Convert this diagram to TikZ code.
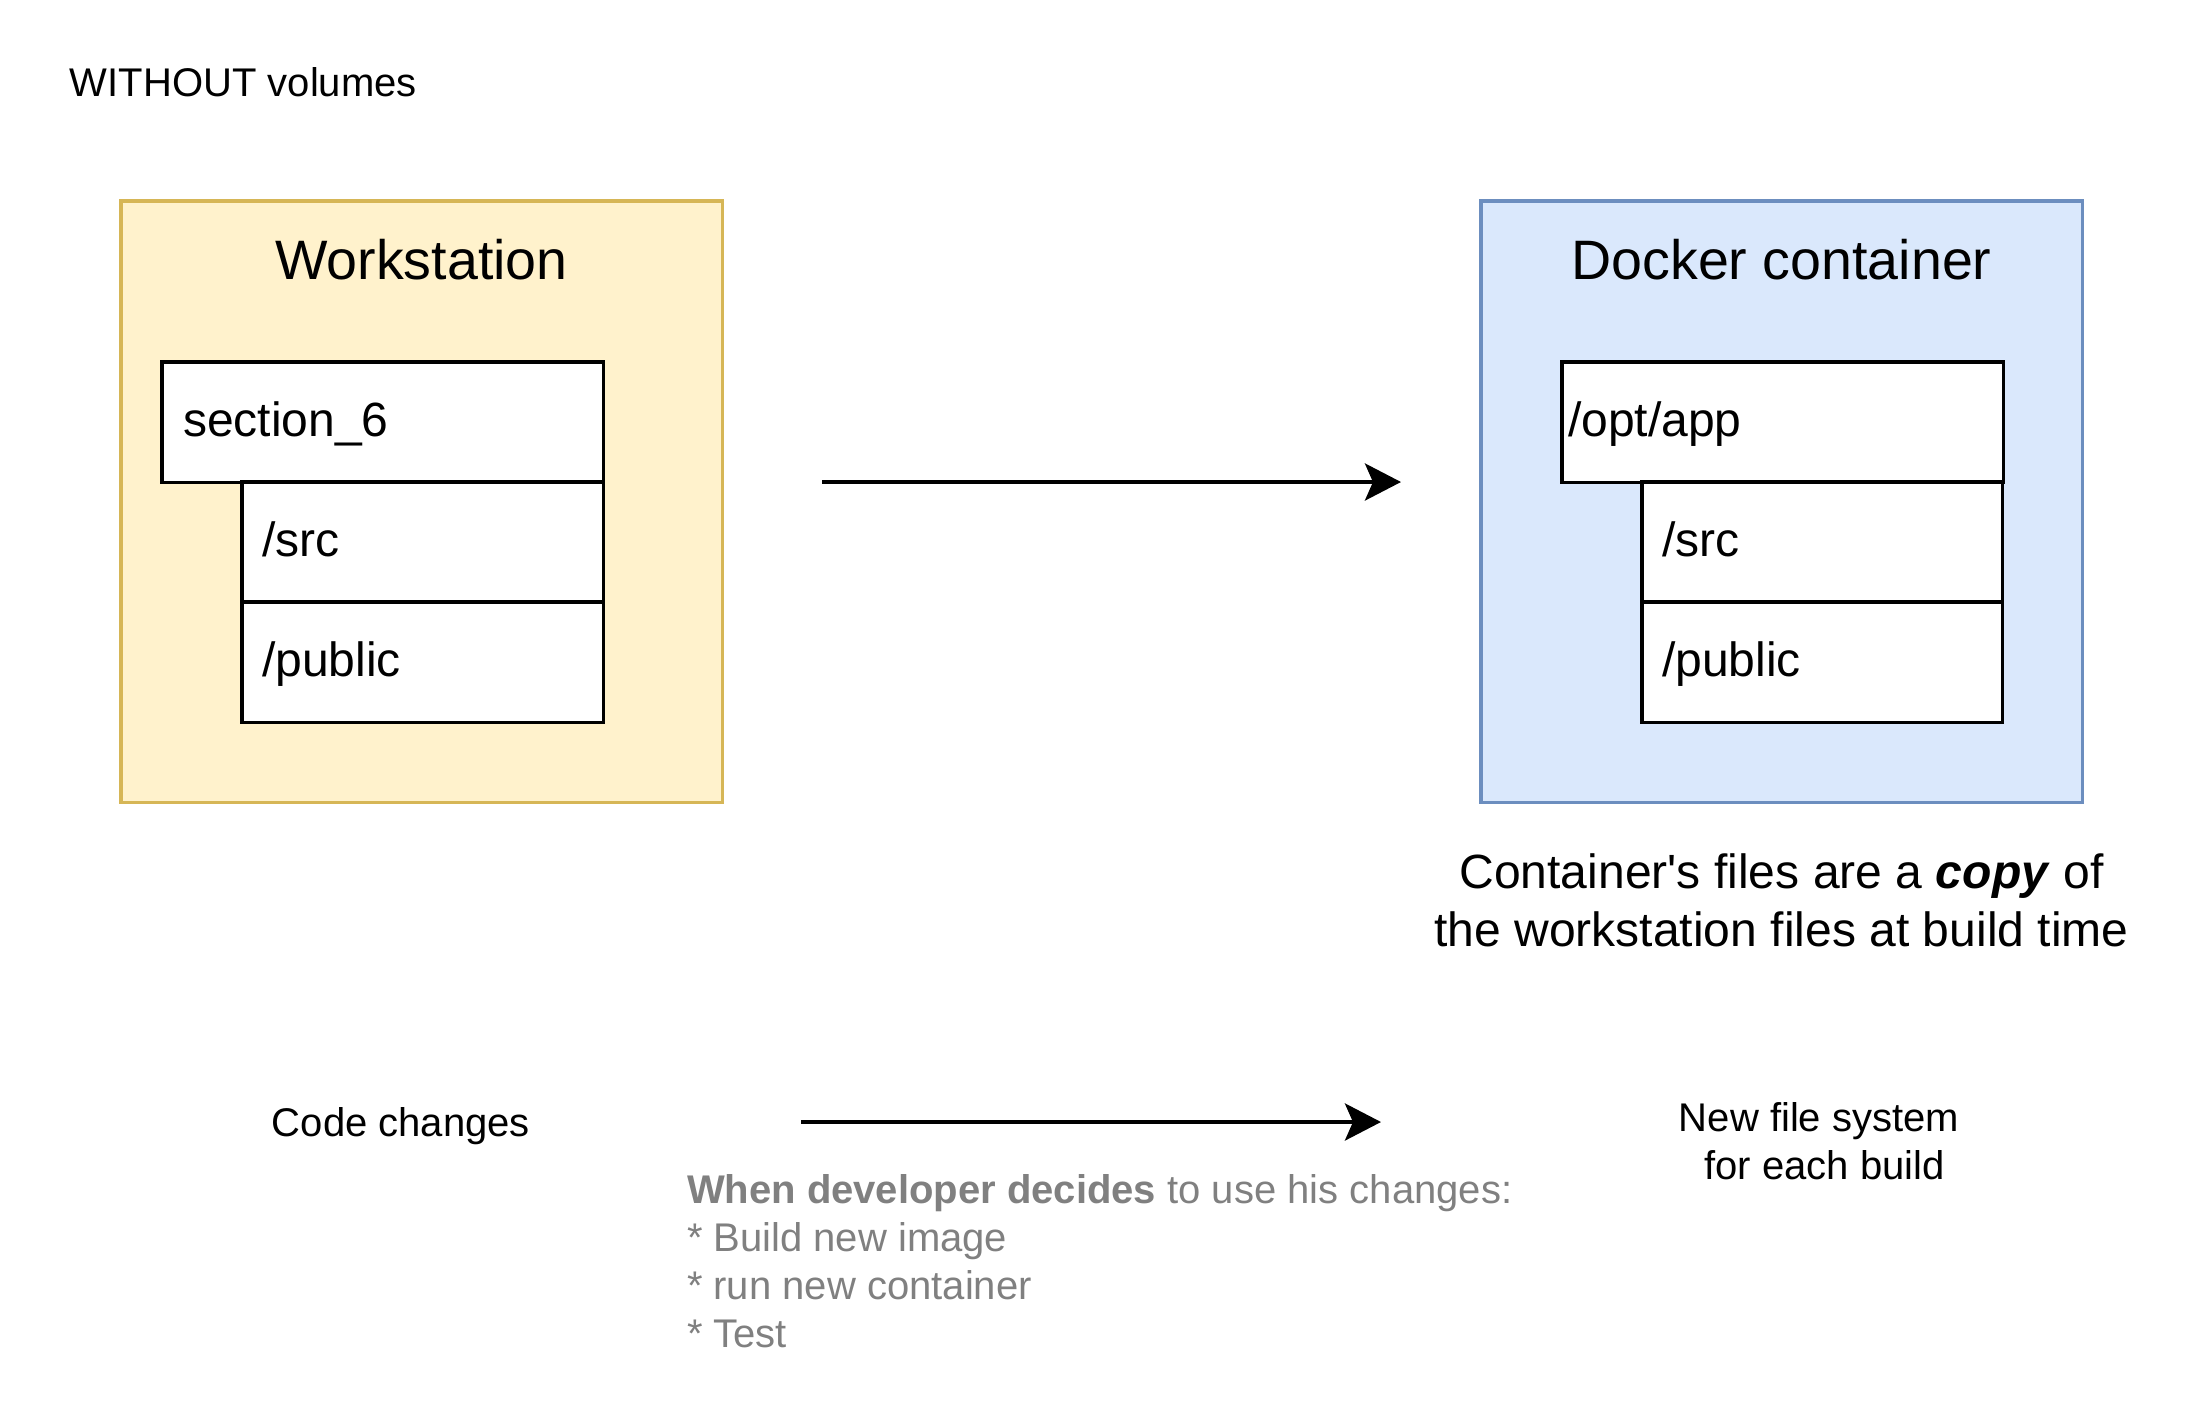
\documentclass[tikz,border=0pt]{standalone}
\usepackage{fontspec}
\setmainfont{Liberation Sans}
\usetikzlibrary{positioning}
\usetikzlibrary{arrows.meta}
\definecolor{wsfill}{HTML}{FFF2CC}
\definecolor{wsline}{HTML}{D6B656}
\definecolor{dcfill}{HTML}{DAE8FC}
\definecolor{dcline}{HTML}{6C8EBF}
\definecolor{note}{HTML}{808080}
\newcommand{\titlefont}{\fontsize{15.8}{19}\selectfont}
\newcommand{\itemfont}{\fontsize{13.66}{16.39}\selectfont}
\newcommand{\smallfont}{\fontsize{11.38}{13.66}\selectfont}
\tikzset{
	every node/.style={outer sep=0pt},
	outerbox/.style={line width=0.9pt,minimum width=6.01cm,minimum height=6.01cm,inner sep=0pt,anchor=north west},
	folder/.style={draw=black,fill=white,line width=0.9pt,minimum height=1.2cm,inner ysep=0pt,inner xsep=0.2cm,
		align=left,font=\itemfont,text height=0.344cm,text depth=0.05cm,anchor=north west},
	move/.style={line width=1.14pt,-{Stealth[length=0.36cm,width=0.37cm,inset=0.08cm]}},
}

\begin{document}
\begin{tikzpicture}[x=0.01cm,y=-0.01cm]
	\useasboundingbox (0,0) rectangle (2208,1408);

	% heading.....................
	\node [anchor=base west,font=\smallfont,inner sep=0pt] (head) at (70,96) {WITHOUT volumes};

	% workstation box...................
	\node [outerbox,fill=wsfill,draw=wsline] (ws) at (121,201) {};
	\node [anchor=base,font=\titlefont] (ws-title) at (421.5,279.5) {Workstation};
	\node [folder,text width=3.99cm,inner xsep=0.21cm] (ws-root) at (162,362) {section\_6};
	\node [folder,text width=3.21cm] (ws-src) at (242,482) {/src};
	\node [folder,text width=3.21cm] (ws-public) at (242,602) {/public};

	% docker container box...................
	\node [outerbox,fill=dcfill,draw=dcline] (dc) at (1481,201) {};
	\node [anchor=base,font=\titlefont] (dc-title) at (1781.5,279.5) {Docker container};
	\node [folder,text width=4.29cm,inner xsep=0.06cm] (dc-root) at (1562,362) {/opt/app};
	\node [folder,text width=3.2cm] (dc-src) at (1642,482) {/src};
	\node [folder,text width=3.2cm] (dc-public) at (1642,602) {/public};

	% copy arrow.............
	\coordinate (copy-from) at (822,482);
	\coordinate (copy-to) at (1401,482);
	\draw [move] (copy-from) -- (copy-to);

	\node [align=center,font=\itemfont,inner sep=0pt] (copy-note) at (1781.5,900)
		{Container\textquotesingle s files are a \textbf{\textit{copy}} of\\the workstation files at build time};

	% build flow.............
	\node [anchor=base,font=\smallfont] (code) at (401,1136) {Code changes};
	\coordinate (build-from) at (801,1122);
	\coordinate (build-to) at (1381,1122);
	\draw [move] (build-from) -- (build-to);
	\node [align=center,font=\smallfont,inner sep=0pt] (newfs) at (1819,1141.5) {New file system\\\ for each build};

	% steps..............................
	\node [anchor=west,align=left,font=\smallfont,text=note,inner sep=0pt] (steps) at (687,1261)
		{\textbf{When developer decides} to use his changes:\\* Build new image\\* run new container\\* Test};
\end{tikzpicture}
\end{document}
